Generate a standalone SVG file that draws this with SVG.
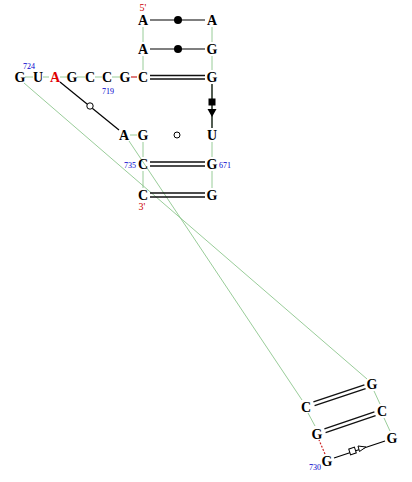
<svg xmlns="http://www.w3.org/2000/svg" width="412" height="482" viewBox="0 0 412 482">
<style>
.nt{font-family:"Liberation Serif",serif;font-weight:bold;font-size:14px;text-anchor:middle;dominant-baseline:central;fill:#000}
.red{fill:#e00000}
.num{font-family:"Liberation Serif",serif;font-size:8px;fill:#0000cc}
.end{font-family:"Liberation Serif",serif;font-size:10px;fill:#cc0000;text-anchor:middle}
.bb{stroke:#7fbf7f;stroke-width:0.8;fill:none}
.bp{stroke:#000;stroke-width:1.2;fill:none}
.wc{stroke:#111;stroke-width:1.3;fill:none}
.rd{stroke:#cc2222;stroke-width:1.2;fill:none}
</style>
<rect width="412" height="482" fill="#fff"/>
<g id="connectors">
  <line class="bb" x1="143" y1="27" x2="143" y2="42"/>
  <line class="bb" x1="143" y1="56" x2="143" y2="70"/>
  <line class="bb" x1="212" y1="27" x2="212" y2="42"/>
  <line class="bb" x1="212" y1="56" x2="212" y2="70"/>
  <line class="bb" x1="212" y1="84" x2="212" y2="128"/>
  <line class="bb" x1="212" y1="142" x2="212" y2="157"/>
  <line class="bb" x1="212" y1="171" x2="212" y2="188"/>
  <line class="bb" x1="143" y1="142" x2="143" y2="157"/>
  <line class="bb" x1="143" y1="171" x2="143" y2="188"/>
  <line class="bb" x1="130" y1="135" x2="137" y2="135"/>
  <line class="rd" x1="131" y1="77" x2="137" y2="77"/>
  <line class="bb" x1="112" y1="77" x2="120" y2="77"/>
  <line class="bb" x1="95" y1="77" x2="102" y2="77"/>
  <line class="bb" x1="77" y1="77" x2="85" y2="77"/>
  <line class="bb" x1="60" y1="77" x2="67" y2="77"/>
  <line class="bb" x1="43" y1="77" x2="49" y2="77"/>
  <line class="bb" x1="25" y1="77" x2="33" y2="77"/>
  <line class="bb" x1="24" y1="83" x2="367" y2="379"/>
  <line class="bb" x1="129" y1="141" x2="302" y2="400"/>
  <line class="bb" x1="374" y1="391" x2="380" y2="404"/>
  <line class="bb" x1="384" y1="418" x2="390" y2="431"/>
  <line class="bb" x1="315" y1="426" x2="308" y2="413"/>
  <line class="rd" x1="325" y1="454" x2="319" y2="440" stroke-dasharray="2,1.5"/>
  <line class="bp" x1="150" y1="20" x2="205" y2="20"/>
  <circle cx="178" cy="20" r="4" fill="#000"/>
  <line class="bp" x1="150" y1="49" x2="205" y2="49"/>
  <circle cx="178" cy="49" r="4" fill="#000"/>
  <line class="wc" x1="150" y1="75.5" x2="205" y2="75.5" stroke="#555"/>
  <line class="wc" x1="150" y1="79" x2="205" y2="79" stroke="#555"/>
  <line class="bp" x1="212" y1="84" x2="212" y2="128"/>
  <rect x="208.5" y="98.5" width="7" height="7" fill="#000"/>
  <polygon points="207.5,109 216.5,109 212,117" fill="#000"/>
  <line class="bp" x1="60" y1="82" x2="119" y2="130"/>
  <circle cx="90" cy="106" r="3.2" fill="#fff" stroke="#000" stroke-width="1"/>
  <circle cx="177" cy="135" r="3" fill="#fff" stroke="#000" stroke-width="1"/>
  <line class="wc" x1="150" y1="162" x2="205" y2="162"/>
  <line class="wc" x1="150" y1="166" x2="205" y2="166"/>
  <line class="wc" x1="150" y1="193" x2="205" y2="193"/>
  <line class="wc" x1="150" y1="197" x2="205" y2="197"/>
  <line class="wc" x1="313.4" y1="401.9" x2="364.4" y2="384.9"/>
  <line class="wc" x1="314.6" y1="405.6" x2="365.6" y2="388.6"/>
  <line class="wc" x1="324.4" y1="428.9" x2="374.4" y2="411.9"/>
  <line class="wc" x1="325.6" y1="432.6" x2="375.6" y2="415.6"/>
  <line class="bp" x1="334" y1="458" x2="385" y2="441"/>
  <rect x="349.5" y="448" width="6" height="6" fill="#fff" stroke="#000" stroke-width="1" transform="rotate(-18 352.5 451)"/>
  <polygon points="358,446 366,447 359.5,451.5" fill="#fff" stroke="#000" stroke-width="1"/>
</g>
<g id="n715"><text class="nt" x="143" y="20">A</text><text class="end" x="143" y="11">5'</text></g>
<g id="n716"><text class="nt" x="143" y="49">A</text></g>
<g id="n717"><text class="nt" x="143" y="77">C</text></g>
<g id="n718"><text class="nt" x="125" y="77">G</text></g>
<g id="n719"><text class="nt" x="107" y="77">C</text><text class="num" x="108" y="94" text-anchor="middle">719</text></g>
<g id="n720"><text class="nt" x="90" y="77">C</text></g>
<g id="n721"><text class="nt" x="72" y="77">G</text></g>
<g id="n722"><text class="nt red" x="55" y="77">A</text></g>
<g id="n723"><text class="nt" x="38" y="77">U</text></g>
<g id="n724"><text class="nt" x="20" y="77">G</text><text class="num" x="29" y="69" text-anchor="middle">724</text></g>
<g id="n725"><text class="nt" x="372" y="384">G</text></g>
<g id="n726"><text class="nt" x="382" y="411">C</text></g>
<g id="n727"><text class="nt" x="392" y="438">G</text></g>
<g id="n730"><text class="nt" x="327" y="461">G</text><text class="num" x="315" y="470" text-anchor="middle">730</text></g>
<g id="n731"><text class="nt" x="317" y="434">G</text></g>
<g id="n732"><text class="nt" x="306" y="407">C</text></g>
<g id="n733"><text class="nt" x="124" y="135">A</text></g>
<g id="n734"><text class="nt" x="143" y="135">G</text></g>
<g id="n735"><text class="nt" x="143" y="164">C</text><text class="num" x="136" y="168" text-anchor="end">735</text></g>
<g id="n736"><text class="nt" x="143" y="195">C</text><text class="end" x="142" y="210">3'</text></g>
<g id="n675"><text class="nt" x="212" y="20">A</text></g>
<g id="n674"><text class="nt" x="212" y="49">G</text></g>
<g id="n673"><text class="nt" x="212" y="77">G</text></g>
<g id="n672"><text class="nt" x="212" y="135">U</text></g>
<g id="n671"><text class="nt" x="212" y="164">G</text><text class="num" x="219" y="168">671</text></g>
<g id="n670"><text class="nt" x="212" y="195">G</text></g>
</svg>
